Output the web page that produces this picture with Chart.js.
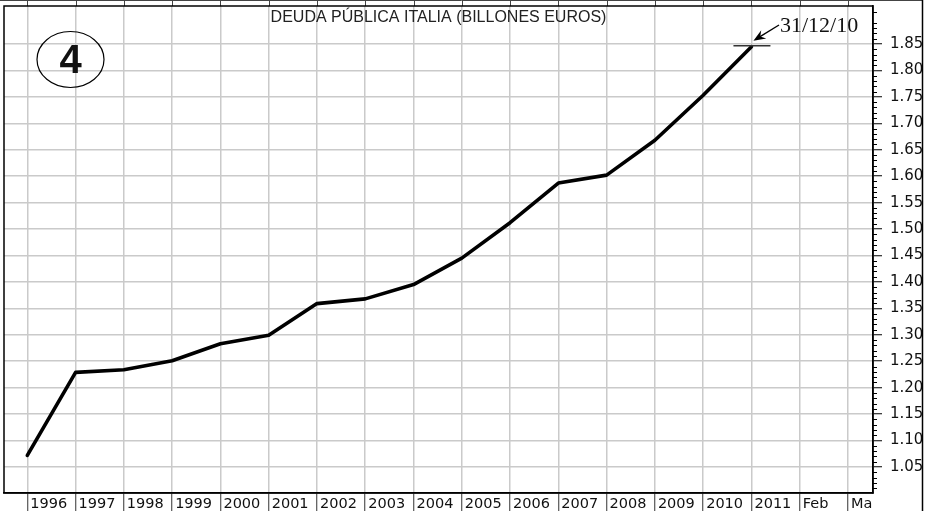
<!DOCTYPE html>
<html><head><meta charset="utf-8">
<script src="https://cdn.jsdelivr.net/npm/chart.js@4.4.0/dist/chart.umd.min.js"></script>
<style>html,body{margin:0;padding:0;background:#fff;}#wrap{width:926px;height:511px;position:relative;}</style>
</head><body><div id="wrap"><canvas id="c" width="926" height="511"></canvas></div>
<script>
const xLabels = ['1996','1997','1998','1999','2000','2001','2002','2003','2004','2005','2006','2007','2008','2009','2010','2011','Feb','Ma'];
const debtValues = [1.072,1.229,1.234,1.251,1.283,1.299,1.359,1.368,1.395,1.445,1.512,1.587,1.602,1.668,1.753,1.845];
const yTickValues = [1.05,1.10,1.15,1.20,1.25,1.30,1.35,1.40,1.45,1.50,1.55,1.60,1.65,1.70,1.75,1.80,1.85];
const titleText = 'DEUDA PÚBLICA ITALIA (BILLONES EUROS)';
const dateNote = '31/12/10';
const badgeText = '4';

const decor = {
  id: 'decor',
  beforeDraw(chart) {
    const ctx = chart.ctx;
    ctx.save(); ctx.fillStyle = '#fff'; ctx.fillRect(0, 0, chart.width, chart.height); ctx.restore();
  },
  afterDraw(chart) {
    const {ctx, chartArea: a, scales: {x, y}} = chart;
    ctx.save();
    const line = (x1, y1, x2, y2) => { ctx.beginPath(); ctx.moveTo(x1, y1); ctx.lineTo(x2, y2); ctx.stroke(); };
    // top strip
    ctx.strokeStyle = '#444'; ctx.lineWidth = 1;
    xLabels.forEach((_, i) => { const px = Math.round(x.getPixelForValue(i)) + 0.5; line(px, 0, px, a.top); });
    line(0, 0.5, 923, 0.5);
    // minor ticks on right axis
    ctx.strokeStyle = '#000'; ctx.lineWidth = 1;
    for (let k = 101; k <= 191; k++) {
      if (k % 5 === 0) continue;
      const py = Math.round(y.getPixelForValue(k / 100)) + 0.5;
      line(a.right, py, a.right + 4, py);
    }
    // frame
    ctx.lineWidth = 1.5; ctx.strokeStyle = '#000';
    ctx.strokeRect(a.left, a.top, a.right - a.left, a.bottom - a.top);
    line(922.5, 0, 922.5, chart.height);
    // title
    ctx.fillStyle = '#222'; ctx.font = '16px "Liberation Sans", Arial, sans-serif';
    ctx.textAlign = 'center'; ctx.textBaseline = 'middle';
    ctx.fillText(titleText, 438.5, 18);
    // badge
    ctx.lineWidth = 1.2; ctx.strokeStyle = '#000';
    ctx.beginPath(); ctx.ellipse(70.5, 59.5, 33.5, 28, 0, 0, Math.PI * 2); ctx.stroke();
    ctx.fillStyle = '#111'; ctx.font = 'bold 40px "Liberation Sans", Arial, sans-serif';
    ctx.fillText(badgeText, 70.5, 62);
    // marker at last point
    const lastI = debtValues.length - 1;
    const lx = x.getPixelForValue(lastI);
    const ly = y.getPixelForValue(debtValues[lastI]) - 1;
    ctx.strokeStyle = '#333'; ctx.lineWidth = 1.5;
    line(lx - 18, ly, lx + 19, ly);
    // arrow
    ctx.strokeStyle = '#000'; ctx.lineWidth = 1.4;
    const ax1 = 779, ay1 = 25, ax2 = lx + 2, ay2 = ly - 5;
    line(ax1, ay1, ax2 + 5, ay2 - 3);
    const ang = Math.atan2(ay2 - ay1, ax2 - ax1);
    ctx.fillStyle = '#000';
    ctx.beginPath();
    ctx.moveTo(ax2, ay2);
    ctx.lineTo(ax2 - 13 * Math.cos(ang - 0.38), ay2 - 13 * Math.sin(ang - 0.38));
    ctx.lineTo(ax2 - 8 * Math.cos(ang), ay2 - 8 * Math.sin(ang));
    ctx.lineTo(ax2 - 13 * Math.cos(ang + 0.38), ay2 - 13 * Math.sin(ang + 0.38));
    ctx.closePath(); ctx.fill();
    // date note
    ctx.fillStyle = '#111'; ctx.font = '22px "Liberation Serif", "Times New Roman", serif';
    ctx.textAlign = 'left'; ctx.textBaseline = 'alphabetic';
    ctx.fillText(dateNote, 780, 32);
    ctx.restore();
  }
};

new Chart(document.getElementById('c'), {
  type: 'line',
  data: {
    datasets: [{
      data: debtValues.map((v, i) => ({x: i, y: v})),
      borderColor: '#000', borderWidth: 3.6, pointRadius: 0, tension: 0,
      borderCapStyle: 'round', borderJoinStyle: 'round', fill: false
    }]
  },
  options: {
    responsive: false, animation: false,
    layout: {padding: {left: 4, top: 6, right: 0, bottom: 0}},
    plugins: {legend: {display: false}, tooltip: {enabled: false}, title: {display: false}},
    scales: {
      x: {
        type: 'linear', position: 'bottom', min: -0.483, max: 17.518,
        afterBuildTicks: s => { s.ticks = xLabels.map((_, i) => ({value: i})); },
        afterFit: s => { s.height = 18; s.paddingLeft = 0; s.paddingRight = 0; s.paddingTop = 0; s.paddingBottom = 0; },
        grid: {color: '#cacaca', lineWidth: 1.5, tickColor: '#333', tickLength: 18, tickWidth: 1},
        border: {display: true, color: '#000', width: 1.5},
        ticks: {
          autoSkip: false, maxRotation: 0, align: 'start', labelOffset: 3, padding: -15.4,
          color: '#111', font: {family: '"DejaVu Sans", sans-serif', size: 14.5},
          callback: v => xLabels[v]
        }
      },
      y: {
        type: 'linear', position: 'right', min: 1.0008, max: 1.9219,
        afterBuildTicks: s => { s.ticks = yTickValues.map(v => ({value: v})); },
        afterFit: s => { s.width = 53; s.paddingLeft = 0; s.paddingRight = 0; s.paddingTop = 0; s.paddingBottom = 0; },
        grid: {color: '#cacaca', lineWidth: 1.5, tickColor: '#000', tickLength: 9, tickWidth: 1},
        border: {display: true, color: '#000', width: 1.5},
        ticks: {
          padding: 8, color: '#111', font: {family: '"DejaVu Sans", sans-serif', size: 15},
          callback: v => Number(v).toFixed(2)
        }
      }
    }
  },
  plugins: [decor]
});
</script>
</body></html>
